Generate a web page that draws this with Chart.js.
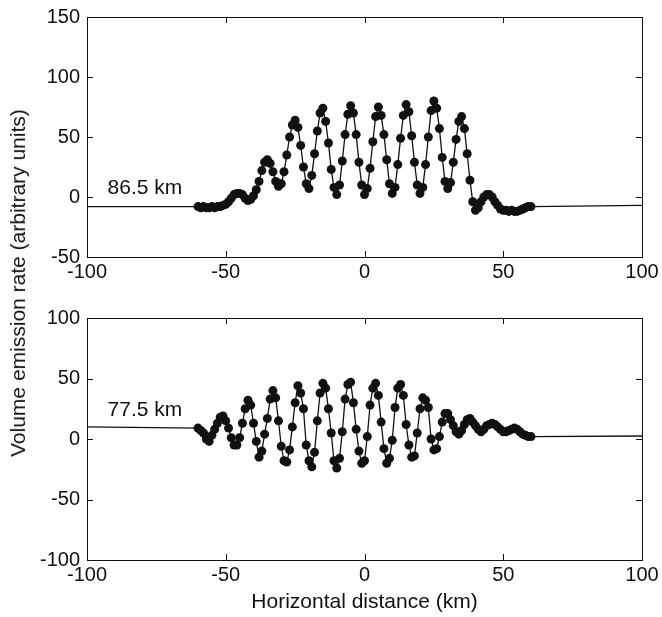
<!DOCTYPE html>
<html>
<head>
<meta charset="utf-8">
<script src="https://cdn.jsdelivr.net/npm/chart.js@4"></script>
<style>
  body { margin: 0; background: #fff; }
  #wrap { position: relative; width: 662px; height: 617px; }
  .panel { position: absolute; left: 0; width: 662px; }
  #top { top: 0; height: 290px; }
  #bottom { top: 290px; height: 327px; }
  #ytitle {
    position: absolute; left: 18px; top: 283px;
    transform: translate(-50%, -50%) rotate(-90deg);
    white-space: nowrap; color: #111;
    font: 21px 'Liberation Sans', Arial, sans-serif;
  }
</style>
</head>
<body>
<div id="wrap">
  <div class="panel" id="top"><canvas id="c865"></canvas></div>
  <div class="panel" id="bottom"><canvas id="c775"></canvas></div>
  <div id="ytitle">Volume emission rate (arbitrary units)</div>
</div>
<script>
const distanceKm = [
  -60, -59, -58, -57, -56, -55, -54, -53, -52, -51,
  -50, -49, -48, -47, -46, -45, -44, -43, -42, -41,
  -40, -39, -38, -37, -36, -35, -34, -33, -32, -31,
  -30, -29, -28, -27, -26, -25, -24, -23, -22, -21,
  -20, -19, -18, -17, -16, -15, -14, -13, -12, -11,
  -10, -9, -8, -7, -6, -5, -4, -3, -2, -1,
  0, 1, 2, 3, 4, 5, 6, 7, 8, 9,
  10, 11, 12, 13, 14, 15, 16, 17, 18, 19,
  20, 21, 22, 23, 24, 25, 26, 27, 28, 29,
  30, 31, 32, 33, 34, 35, 36, 37, 38, 39,
  40, 41, 42, 43, 44, 45, 46, 47, 48, 49,
  50, 51, 52, 53, 54, 55, 56, 57, 58, 59,
  60
];

// 86.5 km layer
const emission865 = [
  -8, -9, -8, -9, -9, -8, -9, -8, -8, -7,
  -6, -4, -1, 2, 3, 3, 2, -1, -3, -2,
  1, 6, 13, 22, 29, 31, 28, 21, 13, 9,
  11, 21, 35, 50, 60, 64, 58, 43, 25, 11,
  7, 18, 36, 55, 70, 74, 63, 45, 23, 8,
  2, 10, 30, 52, 69, 76, 70, 52, 29, 10,
  2, 7, 24, 46, 67, 75, 68, 52, 31, 11,
  3, 8, 27, 49, 68, 77, 71, 51, 29, 10,
  3, 8, 27, 50, 72, 80, 74, 57, 33, 13,
  7, 12, 29, 48, 63, 67, 57, 36, 14, -4,
  -11, -9, -4, 0, 2, 2, 0, -4, -7, -10,
  -11, -11, -12, -11, -12, -12, -11, -10, -9, -8,
  -8
];

// 77.5 km layer
const emission775 = [
  9, 7, 5, 0, -2, 3, 8, 13, 18, 19,
  15, 9, 1, -5, -5, 1, 13, 25, 32, 28,
  13, -2, -15, -10, 4, 17, 33, 40, 34, 15,
  -6, -18, -19, -9, 10, 30, 44, 38, 25, -5,
  -18, -23, -11, 15, 38, 46, 42, 25, 5, -18,
  -24, -16, 6, 33, 45, 47, 30, 8, -10, -20,
  -18, 2, 28, 42, 46, 36, 14, -8, -20, -16,
  -1, 26, 42, 45, 36, 12, -5, -15, -14, 5,
  25, 34, 32, 26, 0, -9, -8, 2, 14, 21,
  21, 16, 11, 6, 4, 7, 12, 16, 17, 14,
  11, 8, 6, 8, 11, 12, 13, 12, 10, 8,
  6, 6, 7, 8, 9, 8, 6, 4, 3, 2,
  2
];

// plain line continuing past the measured range
const tailKm = [-100, -60, 60, 100];
const tail865 = [-8, -8, -8, -7];
const tail775 = [10, 9, 2, 2.5];

const altitudeLabels = ['86.5 km', '77.5 km'];

const FONT = "'Liberation Sans', Arial, Helvetica, sans-serif";
const INK = '#111';

// MATLAB-like box with inward ticks on all four sides
const boxTicks = {
    id: 'boxTicks',
    afterDatasetsDraw(chart) {
        const { ctx, chartArea: a, scales: { x, y } } = chart;
        const len = 6;
        ctx.save();
        ctx.strokeStyle = INK;
        ctx.lineWidth = 1;
        ctx.strokeRect(Math.round(a.left) + 0.5, Math.round(a.top) + 0.5,
            Math.round(a.width), Math.round(a.height));
        ctx.beginPath();
        x.ticks.forEach(t => {
            const px = Math.round(x.getPixelForValue(t.value)) + 0.5;
            ctx.moveTo(px, a.bottom); ctx.lineTo(px, a.bottom - len);
            ctx.moveTo(px, a.top); ctx.lineTo(px, a.top + len);
        });
        y.ticks.forEach(t => {
            const py = Math.round(y.getPixelForValue(t.value)) + 0.5;
            ctx.moveTo(a.left, py); ctx.lineTo(a.left + len, py);
            ctx.moveTo(a.right, py); ctx.lineTo(a.right - len, py);
        });
        ctx.stroke();
        ctx.restore();
    }
};

const altLabel = {
    id: 'altLabel',
    afterDatasetsDraw(chart, args, opts) {
        const { ctx, scales: { x, y } } = chart;
        ctx.save();
        ctx.font = `21px ${FONT}`;
        ctx.fillStyle = INK;
        ctx.textBaseline = 'middle';
        ctx.fillText(opts.text, x.getPixelForValue(opts.x), y.getPixelForValue(opts.y));
        ctx.restore();
    }
};

function panel(id, values, tails, yMin, yMax, cfg) {
    const pts = distanceKm.map((d, i) => ({ x: d, y: values[i] }));
    const tailPts = tailKm.map((d, i) => ({ x: d, y: tails[i] }));
    const line = { borderColor: INK, borderWidth: 1.3, fill: false, tension: 0 };

    return new Chart(document.getElementById(id), {
        type: 'line',
        data: {
            datasets: [
                { ...line, data: tailPts.slice(0, 2), pointRadius: 0 },
                { ...line, data: tailPts.slice(2), pointRadius: 0 },
                {
                    ...line,
                    data: pts,
                    pointRadius: 4.5,
                    pointHoverRadius: 4.5,
                    pointBackgroundColor: INK,
                    pointBorderWidth: 0,
                },
            ],
        },
        options: {
            responsive: true,
            maintainAspectRatio: false,
            animation: false,
            layout: { padding: { top: cfg.padTop, right: 20, bottom: 0, left: 0 } },
            plugins: {
                legend: { display: false },
                tooltip: { enabled: false },
                altLabel: cfg.label,
            },
            scales: {
                x: {
                    type: 'linear',
                    min: -100,
                    max: 100,
                    grid: { display: false, drawTicks: false },
                    border: { display: false },
                    ticks: { stepSize: 50, color: INK, padding: 3, maxRotation: 0, font: { family: FONT, size: 20 } },
                    title: {
                        display: cfg.xTitle,
                        text: 'Horizontal distance (km)',
                        color: INK,
                        font: { family: FONT, size: 21 },
                        padding: { top: 0, bottom: 2 },
                    },
                    afterFit(s) {
                        s.height = cfg.xHeight;
                        s.paddingLeft = 0;
                        s.paddingRight = 0;
                    },
                },
                y: {
                    min: yMin,
                    max: yMax,
                    grid: { display: false, drawTicks: false },
                    border: { display: false },
                    ticks: { stepSize: 50, color: INK, padding: 7, font: { family: FONT, size: 20 } },
                    afterFit(s) {
                        s.width = 87;
                        s.paddingTop = 0;
                        s.paddingBottom = 0;
                    },
                },
            },
        },
        plugins: [boxTicks, altLabel],
    });
}

panel('c865', emission865, tail865, -50, 150, {
    padTop: 17, xHeight: 33, xTitle: false,
    label: { text: altitudeLabels[0], x: -92.6, y: 7.5 },
});
panel('c775', emission775, tail775, -100, 100, {
    padTop: 28, xHeight: 57, xTitle: true,
    label: { text: altitudeLabels[1], x: -92.6, y: 24 },
});
</script>
</body>
</html>
